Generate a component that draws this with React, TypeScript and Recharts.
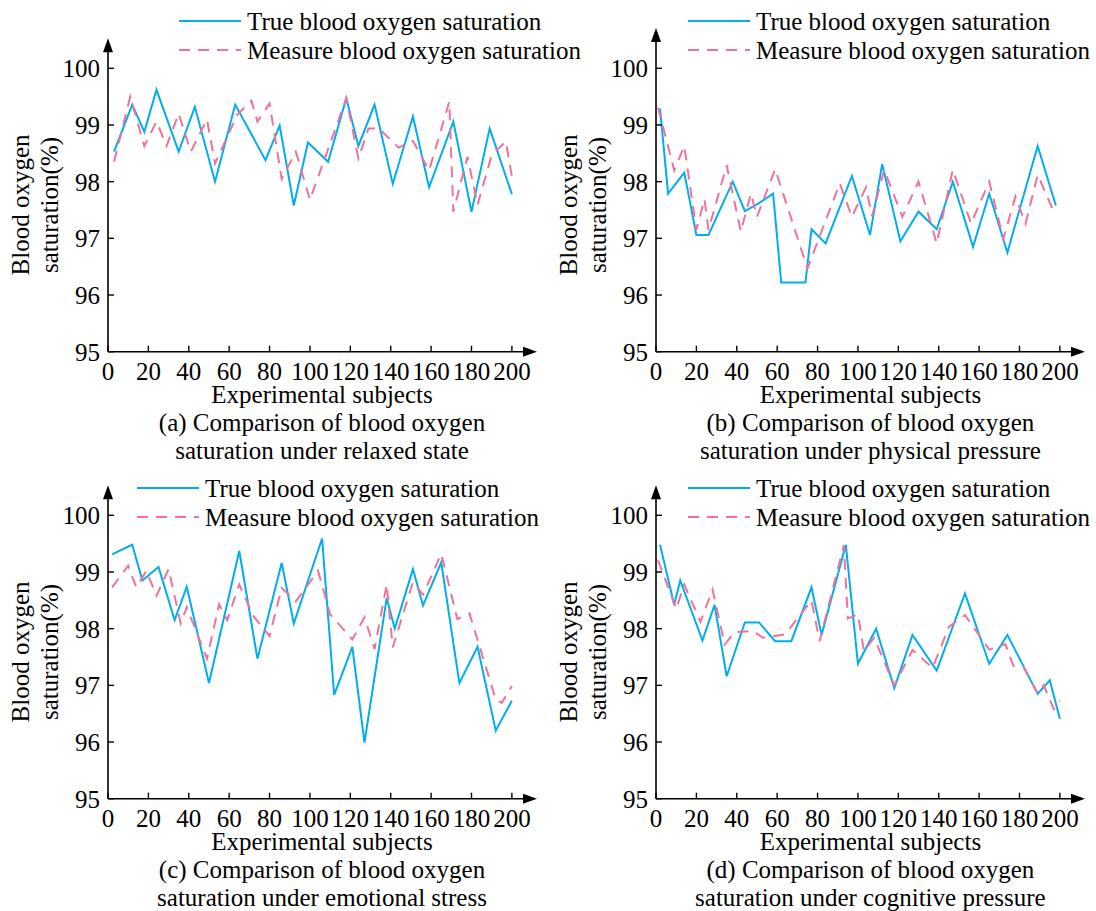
import { LineChart, Line, XAxis, YAxis, ReferenceDot } from 'recharts';

const FONT = "'Liberation Serif', 'Times New Roman', serif";
const TRUE_COLOR = '#00AEEF';
const MEASURE_COLOR = '#F0729C';
const DASH = '11 8';

const xTicks = [0, 20, 40, 60, 80, 100, 120, 140, 160, 180, 200];
const yTicks = [95, 96, 97, 98, 99, 100];

// (a) relaxed state
const relaxedTrueX = [3, 12, 18, 24, 35, 43, 53, 63, 78, 85, 92, 99, 109, 118, 124, 132, 141, 151, 159, 171, 180, 189, 200];
const relaxedTrueY = [98.53, 99.36, 98.88, 99.62, 98.53, 99.32, 98.0, 99.36, 98.38, 98.99, 97.58, 98.69, 98.35, 99.47, 98.63, 99.36, 97.96, 99.15, 97.9, 99.06, 97.47, 98.94, 97.78];
const relaxedMeasureX = [3, 11, 18, 24, 29, 35, 41, 49, 53, 64, 71, 74, 80, 86, 93, 100, 118, 124, 129, 134, 144, 151, 159, 169, 171, 178, 183, 190, 197, 200];
const relaxedMeasureY = [98.35, 99.5, 98.63, 99.06, 98.63, 99.2, 98.53, 99.1, 98.32, 99.18, 99.43, 99.06, 99.38, 98.05, 98.53, 97.68, 99.47, 98.41, 98.94, 98.94, 98.6, 98.72, 98.2, 99.41, 97.47, 98.44, 97.59, 98.47, 98.71, 98.09];

// (b) physical pressure
const physicalTrueX = [2, 6, 14, 20, 26, 38, 44, 51, 58, 62, 74, 77, 84, 97, 106, 112, 121, 130, 139, 147, 157, 165, 174, 189, 198];
const physicalTrueY = [99.29, 97.79, 98.16, 97.06, 97.06, 98.0, 97.48, 97.62, 97.79, 96.22, 96.22, 97.16, 96.91, 98.1, 97.06, 98.31, 96.95, 97.47, 97.16, 98.0, 96.85, 97.79, 96.75, 98.63, 97.58];
const physicalMeasureX = [1, 9, 14, 20, 24, 26, 35, 42, 47, 50, 59, 75, 91, 97, 104, 107, 113, 122, 130, 139, 147, 156, 165, 172, 178, 183, 189, 197];
const physicalMeasureY = [99.31, 98.2, 98.63, 97.15, 97.69, 97.15, 98.29, 97.12, 97.79, 97.38, 98.22, 96.47, 97.97, 97.38, 97.9, 97.39, 98.21, 97.38, 98.0, 96.91, 98.21, 97.26, 98.0, 96.99, 97.74, 97.26, 98.12, 97.47];

// (c) emotional stress
const emotionalTrueX = [2, 12, 17, 25, 33, 39, 50, 65, 74, 86, 92, 106, 112, 121, 127, 138, 142, 151, 156, 165, 174, 183, 192, 200];
const emotionalTrueY = [99.31, 99.48, 98.85, 99.09, 98.15, 98.74, 97.04, 99.37, 97.47, 99.16, 98.09, 99.59, 96.83, 97.68, 95.99, 98.54, 98.0, 99.05, 98.41, 99.17, 97.04, 97.68, 96.2, 96.73];
const emotionalMeasureX = [2, 10, 14, 19, 24, 30, 36, 39, 49, 55, 59, 65, 72, 80, 86, 93, 104, 110, 121, 127, 132, 138, 141, 151, 156, 165, 173, 179, 192, 195, 200];
const emotionalMeasureY = [98.73, 99.11, 98.73, 99.02, 98.58, 99.05, 98.09, 98.38, 97.47, 98.43, 98.15, 98.78, 98.22, 97.87, 98.72, 98.48, 99.02, 98.25, 97.81, 98.2, 97.64, 98.78, 97.67, 98.82, 98.6, 99.32, 98.17, 98.27, 96.75, 96.69, 96.99];

// (d) cognitive pressure
const cognitiveTrueX = [2, 9, 12, 23, 29, 35, 44, 51, 59, 67, 77, 82, 94, 100, 109, 118, 127, 139, 153, 165, 174, 189, 195, 200];
const cognitiveTrueY = [99.48, 98.42, 98.85, 97.79, 98.42, 97.16, 98.11, 98.11, 97.78, 97.78, 98.73, 97.89, 99.48, 97.38, 98.0, 96.95, 97.89, 97.26, 98.62, 97.38, 97.89, 96.85, 97.09, 96.41];
const cognitiveMeasureX = [1, 10, 14, 22, 28, 34, 39, 48, 53, 64, 77, 81, 93, 95, 100, 103, 108, 118, 127, 137, 145, 153, 165, 173, 177, 182, 189, 192, 197, 200];
const cognitiveMeasureY = [99.21, 98.35, 98.78, 98.12, 98.69, 97.72, 97.94, 97.96, 97.84, 97.9, 98.5, 97.78, 99.47, 98.18, 98.25, 97.6, 97.84, 97.0, 97.62, 97.31, 98.03, 98.24, 97.63, 97.73, 97.34, 97.32, 96.86, 97.0, 96.58, 96.73];

const toPoints = (xs: number[], ys: number[]) => xs.map((x, i) => ({ x, v: ys[i] }));

// chart geometry (pixels inside one panel)
const W = 548;
const H = 400;
const Y100 = 68.3;
const PX_PER_UNIT = 56.68;
const X_MAX = 206;

const tickStyle = { fontSize: 25, fill: '#000', fontFamily: FONT };

function Panel({
  left,
  top,
  trueData,
  measureData,
  yMax,
  legendLeft,
  legendTop,
  caption,
}: {
  left: number;
  top: number;
  trueData: { x: number; v: number }[];
  measureData: { x: number; v: number }[];
  yMax: number;
  legendLeft: number;
  legendTop: number;
  caption: [string, string];
}) {
  const marginTop = Y100 - (yMax - 100) * PX_PER_UNIT;
  return (
    <div style={{ position: 'absolute', left, top, width: W, height: 464, fontFamily: FONT, color: '#000' }}>
      <LineChart
        width={W}
        height={H}
        margin={{ top: marginTop, right: 24, bottom: H - 351.7 - 30, left: 48 }}
      >
        <XAxis
          type="number"
          dataKey="x"
          domain={[0, X_MAX]}
          ticks={xTicks}
          interval={0}
          allowDataOverflow
          height={30}
          tick={tickStyle}
          tickSize={-6}
          tickMargin={17}
          axisLine={{ stroke: '#000', strokeWidth: 1.6 }}
          tickLine={{ stroke: '#000', strokeWidth: 1.4 }}
        />
        <YAxis
          type="number"
          domain={[95, yMax]}
          ticks={yTicks}
          interval={0}
          allowDataOverflow
          width={60}
          tick={tickStyle}
          tickSize={-6}
          tickMargin={14}
          axisLine={{ stroke: '#000', strokeWidth: 1.6 }}
          tickLine={{ stroke: '#000', strokeWidth: 1.4 }}
        />
        <Line
          data={trueData}
          dataKey="v"
          type="linear"
          stroke={TRUE_COLOR}
          strokeWidth={2}
          dot={false}
          activeDot={false}
          isAnimationActive={false}
        />
        <Line
          data={measureData}
          dataKey="v"
          type="linear"
          stroke={MEASURE_COLOR}
          strokeWidth={2}
          strokeDasharray={DASH}
          dot={false}
          activeDot={false}
          isAnimationActive={false}
        />
        <ReferenceDot
          x={X_MAX}
          y={95}
          r={0}
          shape={(p: any) => (
            <polygon points={`${p.cx - 1},${p.cy - 5} ${p.cx + 13},${p.cy} ${p.cx - 1},${p.cy + 5}`} fill="#000" />
          )}
        />
        <ReferenceDot
          x={0}
          y={yMax}
          r={0}
          shape={(p: any) => (
            <polygon points={`${p.cx - 5},${p.cy + 1} ${p.cx},${p.cy - 13} ${p.cx + 5},${p.cy + 1}`} fill="#000" />
          )}
        />
      </LineChart>

      {/* legend */}
      <div style={{ position: 'absolute', left: legendLeft, top: legendTop - 14.5, fontSize: 25, lineHeight: '29px', whiteSpace: 'nowrap' }}>
        <div style={{ display: 'flex', alignItems: 'center', height: 29 }}>
          <svg width={62} height={4} style={{ marginRight: 6 }}>
            <line x1={0} y1={2} x2={62} y2={2} stroke={TRUE_COLOR} strokeWidth={2} />
          </svg>
          <span>True blood oxygen saturation</span>
        </div>
        <div style={{ display: 'flex', alignItems: 'center', height: 29 }}>
          <svg width={62} height={4} style={{ marginRight: 6 }}>
            <line x1={0} y1={2} x2={62} y2={2} stroke={MEASURE_COLOR} strokeWidth={2} strokeDasharray={DASH} />
          </svg>
          <span>Measure blood oxygen saturation</span>
        </div>
      </div>

      {/* y axis title */}
      <div
        style={{
          position: 'absolute',
          left: 35 - 150,
          top: 205 - 29,
          width: 300,
          height: 58,
          fontSize: 25,
          lineHeight: '29px',
          textAlign: 'center',
          transform: 'rotate(-90deg)',
          transformOrigin: 'center',
        }}
      >
        <div>Blood oxygen</div>
        <div>saturation(%)</div>
      </div>

      {/* x axis title and caption */}
      <div
        style={{
          position: 'absolute',
          left: 48,
          top: 381,
          width: W,
          fontSize: 25,
          lineHeight: '28px',
          textAlign: 'center',
          whiteSpace: 'nowrap',
        }}
      >
        <div>Experimental subjects</div>
        <div>{caption[0]}</div>
        <div>{caption[1]}</div>
      </div>
    </div>
  );
}

export default function App() {
  return (
    <div style={{ position: 'absolute', left: 0, top: 0, width: 1096, height: 911, background: '#fff', overflow: 'hidden' }}>
      <Panel
        left={0}
        top={0}
        trueData={toPoints(relaxedTrueX, relaxedTrueY)}
        measureData={toPoints(relaxedMeasureX, relaxedMeasureY)}
        yMax={100.3}
        legendLeft={179}
        legendTop={21}
        caption={['(a) Comparison of blood oxygen', 'saturation under relaxed state']}
      />
      <Panel
        left={548.4}
        top={0}
        trueData={toPoints(physicalTrueX, physicalTrueY)}
        measureData={toPoints(physicalMeasureX, physicalMeasureY)}
        yMax={100.48}
        legendLeft={139.6}
        legendTop={21}
        caption={['(b) Comparison of blood oxygen', 'saturation under physical pressure']}
      />
      <Panel
        left={0}
        top={446.7}
        trueData={toPoints(emotionalTrueX, emotionalTrueY)}
        measureData={toPoints(emotionalMeasureX, emotionalMeasureY)}
        yMax={100.3}
        legendLeft={137}
        legendTop={41.5}
        caption={['(c) Comparison of blood oxygen', 'saturation under emotional stress']}
      />
      <Panel
        left={548.4}
        top={446.7}
        trueData={toPoints(cognitiveTrueX, cognitiveTrueY)}
        measureData={toPoints(cognitiveMeasureX, cognitiveMeasureY)}
        yMax={100.3}
        legendLeft={139.6}
        legendTop={41.5}
        caption={['(d) Comparison of blood oxygen', 'saturation under cognitive pressure']}
      />
    </div>
  );
}
